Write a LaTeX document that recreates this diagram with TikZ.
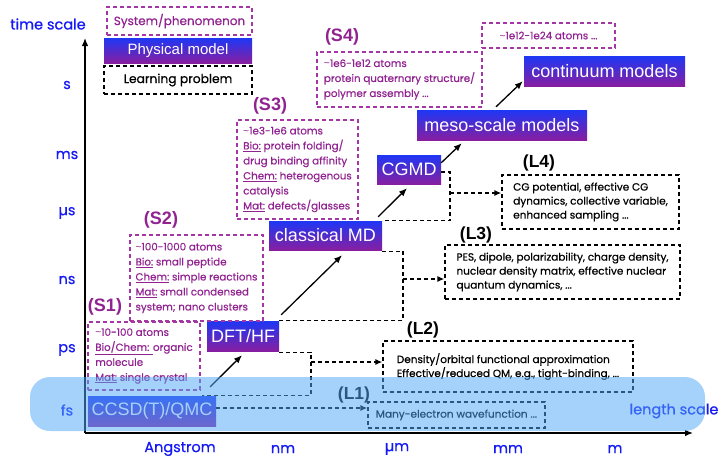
\documentclass[tikz,border=0pt]{standalone}
\usepackage{fontspec}
\setmainfont{Poppins}[FakeBold=0.6]
\newfontfamily\helv{Liberation Sans}
\usetikzlibrary{arrows.meta,calc}
\definecolor{pur}{RGB}{145,35,145}
\definecolor{purline}{RGB}{165,55,165}
\definecolor{axblue}{RGB}{20,25,245}
\definecolor{gtop}{RGB}{30,55,245}
\definecolor{gbot}{RGB}{135,30,160}
\definecolor{bandc}{RGB}{82,168,245}
\newcommand{\tld}{{\helv\textasciitilde}}
\begin{document}
\begin{tikzpicture}[x=1pt,y=-1pt,
 modelbox/.style={top color=gtop,bottom color=gbot,draw=none,text=white,font=\helv\fontsize{18}{20}\selectfont,inner sep=0pt},
 sysbox/.style={draw=purline,dash pattern=on 4pt off 3pt,line width=1.3pt,text=pur,align=left,inner sep=0pt,font=\fontsize{10.3}{15}\selectfont},
 learnbox/.style={draw=black,dash pattern=on 4pt off 3pt,line width=1.3pt,text=black,align=left,inner sep=0pt,font=\fontsize{10.5}{14}\selectfont},
 slabel/.style={text=pur,font=\helv\bfseries\fontsize{18}{20}\selectfont,inner sep=0pt},
 llabel/.style={text=black,font=\helv\bfseries\fontsize{17.5}{20}\selectfont,inner sep=0pt},
 axlabel/.style={text=axblue,font=\fontsize{14.5}{16}\selectfont,inner sep=0pt},
 arr/.style={-{Latex[length=8pt,width=6.5pt]},line width=1.3pt},
 darr/.style={-{Latex[length=7pt,width=6pt]},line width=1.3pt,dash pattern=on 4pt off 3pt},
 dline/.style={line width=1.3pt,dash pattern=on 4pt off 3pt},
]
\useasboundingbox (0,0) rectangle (725,459);

% axes
\coordinate (O) at (85,433);
\coordinate (Ytip) at (85,38);
\coordinate (Xtip) at (693,433);
\draw[arr] (O) -- (Ytip);
\draw[arr] (O) -- (Xtip);

% axis labels
\node[axlabel] (tscale) at (48,24) {time scale};
\node[axlabel] (ts) at (67,85) {s};
\node[axlabel] (tms) at (67,155) {ms};
\node[axlabel] (tus) at (67,213) {µs};
\node[axlabel] (tns) at (67,280) {ns};
\node[axlabel] (tps) at (67,350) {ps};
\node[axlabel] (tfs) at (67,410) {fs};
\node[axlabel] (xa) at (180,449) {Angstrom};
\node[axlabel] (xnm) at (283,449) {nm};
\node[axlabel] (xum) at (397,449) {µm};
\node[axlabel] (xmm) at (508,449) {mm};
\node[axlabel] (xm) at (615,449) {m};
\node[axlabel] (lscale) at (674,411) {length scale};

% legend
\node[sysbox,minimum width=145pt,minimum height=28pt,font=\fontsize{12}{14}\selectfont] (legsys) at (179.5,21) {System/phenomenon};
\node[modelbox,minimum width=148pt,minimum height=25pt,font=\helv\fontsize{15}{17}\selectfont] (legphys) at (178,50.5) {Physical model};
\node[learnbox,minimum width=148pt,minimum height=28pt,font=\fontsize{12.3}{14}\selectfont] (leglearn) at (178,80) {Learning problem};

% model boxes
\node[modelbox,minimum width=128pt,minimum height=30pt] (ccsd) at (152,411) {CCSD(T)/QMC};
\node[modelbox,minimum width=72pt,minimum height=30pt] (dft) at (243,336) {DFT/HF};
\node[modelbox,minimum width=113pt,minimum height=29pt] (md) at (325.5,235.5) {classical MD};
\node[modelbox,minimum width=64pt,minimum height=29pt] (cgmd) at (409,169.5) {CGMD};
\node[modelbox,minimum width=170pt,minimum height=30pt] (meso) at (502,125) {meso-scale models};
\node[modelbox,minimum width=161pt,minimum height=30pt] (cont) at (604.5,71) {continuum models};

% system boxes
\node[sysbox,minimum width=112pt,minimum height=68pt] (s1) at (144,356) {\tld10-100 atoms\\\underline{Bio/Chem: }organic\\molecule\\\underline{Mat:} single crystal};
\node[sysbox,minimum width=133pt,minimum height=86pt] (s2) at (196.5,278) {\tld100-1000 atoms\\\underline{Bio:} small peptide\\\underline{Chem:} simple reactions\\\underline{Mat:} small condensed\\system; nano clusters};
\node[sysbox,minimum width=121pt,minimum height=99pt] (s3) at (297.5,169.5) {\tld1e3-1e6 atoms\\\underline{Bio:} protein folding/\\drug binding affinity\\\underline{Chem:} heterogenous\\catalysis\\\underline{Mat:} defects/glasses};
\node[sysbox,minimum width=165pt,minimum height=55pt] (s4) at (399.5,79.5) {\tld1e6-1e12 atoms\\protein quaternary structure/\\polymer assembly ...};
\node[sysbox,minimum width=133pt,minimum height=25pt] (s5) at (548.5,35.5) {\tld1e12-1e24 atoms ...};

\node[slabel] (s1l) at (105,307) {(S1)};
\node[slabel] (s2l) at (161,220) {(S2)};
\node[slabel] (s3l) at (270,106) {(S3)};
\node[slabel] (s4l) at (342,37) {(S4)};

% learning boxes
\node[learnbox,minimum width=177pt,minimum height=26pt] (l1) at (456.5,415) {Many-electron wavefunction ...};
\node[learnbox,minimum width=250pt,minimum height=51pt] (l2) at (508,366.5) {Density/orbital functional approximation\\Effective/reduced QM, e.g., tight-binding, ...};
\node[learnbox,minimum width=235pt,minimum height=54pt] (l3) at (562.5,272) {PES, dipole, polarizability, charge density,\\nuclear density matrix, effective nuclear\\quantum dynamics, ...};
\node[learnbox,minimum width=177pt,minimum height=54pt] (l4) at (590.5,202) {CG potential, effective CG\\dynamics, collective variable,\\enhanced sampling ...};

\node[llabel] (l1l) at (354,395) {(L1)};
\node[llabel] (l2l) at (423,330) {(L2)};
\node[llabel] (l3l) at (476,235) {(L3)};
\node[llabel] (l4l) at (539,163) {(L4)};

% solid arrows between models
\draw[arr] ([shift={(-6,-9)}]ccsd.north east) -- ([shift={(-1,4)}]dft.south);
\draw[arr] ([shift={(2,-6)}]dft.north east) -- ([shift={(16.5,5)}]md.south);
\draw[arr] ([shift={(-4,-4)}]md.north east) -- ([shift={(-2,4)}]cgmd.south);
\draw[arr] ([shift={(0,8)}]cgmd.north east) -- ([shift={(45,3)}]meso.south west);
\draw[arr] ([shift={(-6,-3)}]meso.north) -- ([shift={(-1,-5)}]cont.south west);

% dashed brackets and arrows
\coordinate (b1) at (311,362);
\draw[dline] ([yshift=-1]dft.south east) -| (b1) |- ([xshift=-14]ccsd.north east);
\draw[darr] (b1) -- (b1 -| l2.west);
\coordinate (b2) at (403,279);
\draw[dline] ([yshift=-1]md.south east) -| (b2) |- (dft.north east);
\draw[darr] (b2) -- (b2 -| l3.west);
\coordinate (b3) at (450,193);
\draw[dline] ([yshift=-2.5]cgmd.east) -| (b3) |- (md.north east);
\draw[darr] (b3) -- (b3 -| l4.west);
\draw[darr] ([yshift=3]ccsd.east) -- ([yshift=3]ccsd.east -| l1.west);

% band
\fill[bandc,opacity=0.52,rounded corners=20pt] (30,377) rectangle (705,431);
\end{tikzpicture}
\end{document}
